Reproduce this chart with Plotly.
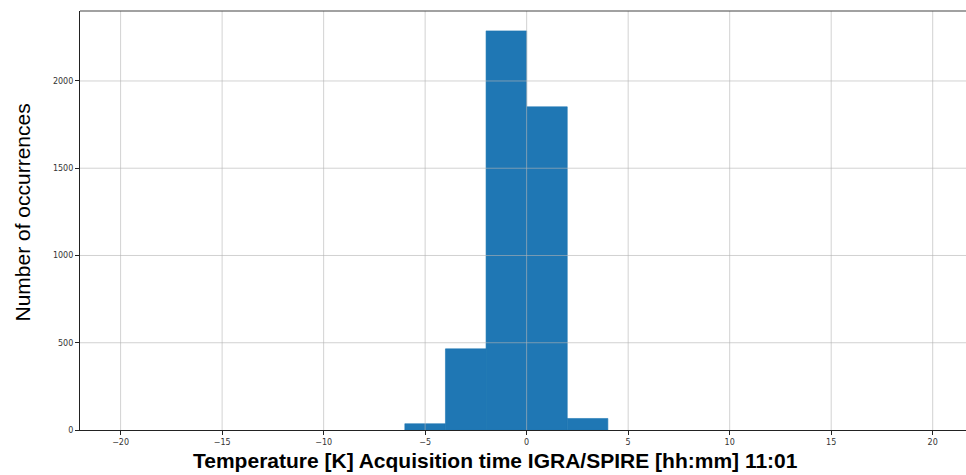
import plotly.graph_objects as go

# Data
bin_edges = [-6, -4, -2, 0, 2, 4]
counts = [36, 465, 2287, 1852, 66]

x_tick_vals = [-20, -15, -10, -5, 0, 5, 10, 15, 20]
x_tick_text = ["\u221220", "\u221215", "\u221210", "\u22125", "0", "5", "10", "15", "20"]
y_tick_vals = [0, 500, 1000, 1500, 2000]
y_tick_text = ["0", "500", "1000", "1500", "2000"]

x_title = "Temperature [K] Acquisition time IGRA/SPIRE [hh:mm] 11:01"
y_title = "Number of occurrences"

lefts = bin_edges[:-1]
widths = [b - a for a, b in zip(bin_edges[:-1], bin_edges[1:])]

fig = go.Figure()
fig.add_trace(go.Bar(
    x=lefts, y=counts, width=widths, offset=0,
    marker=dict(color="#1f77b4", line=dict(width=0.6, color="#1f77b4")),
    hoverinfo="x+y",
))

grid_col = "rgba(180,180,180,0.6)"
shapes = []
for v in x_tick_vals:
    shapes.append(dict(type="line", xref="x", yref="paper", x0=v, x1=v, y0=0, y1=1,
                       line=dict(color=grid_col, width=1), layer="above"))
for v in y_tick_vals[1:]:
    shapes.append(dict(type="line", xref="paper", yref="y", x0=0, x1=1, y0=v, y1=v,
                       line=dict(color=grid_col, width=1), layer="above"))
# top spine
shapes.append(dict(type="line", xref="paper", yref="paper", x0=0, x1=1, y0=1, y1=1,
                   line=dict(color="#444", width=1.2), layer="above"))

fig.update_layout(
    width=966, height=475,
    margin=dict(l=80, r=0, t=11, b=45),
    paper_bgcolor="white", plot_bgcolor="white",
    showlegend=False,
    shapes=shapes,
    font=dict(family="DejaVu Sans", color="#333"),
    annotations=[
        dict(text=x_title, xref="paper", yref="paper", x=(495.5 - 80) / 886, y=-0.0716,
             xanchor="center", yanchor="middle", showarrow=False,
             font=dict(family="Liberation Sans", size=21, color="black", weight="bold")),
        dict(text=y_title, xref="paper", yref="paper", x=-0.066, y=(430 - 213) / 419,
             xanchor="center", yanchor="middle", showarrow=False, textangle=-90,
             font=dict(family="Liberation Sans", size=21, color="black")),
    ],
)
fig.update_xaxes(
    range=[-22, 21.64], tickvals=x_tick_vals, ticktext=x_tick_text,
    showgrid=False, zeroline=False, showline=True, linecolor="#222", linewidth=1.2,
    ticks="outside", ticklen=4, tickcolor="#222",
    tickfont=dict(size=8, color="#333"),
)
fig.update_yaxes(
    range=[0, 2401], tickvals=y_tick_vals, ticktext=y_tick_text,
    showgrid=False, zeroline=False, showline=True, linecolor="#222", linewidth=1.2,
    ticks="outside", ticklen=4, tickcolor="#222",
    tickfont=dict(size=8, color="#333"),
)

fig.write_html("out.html")
